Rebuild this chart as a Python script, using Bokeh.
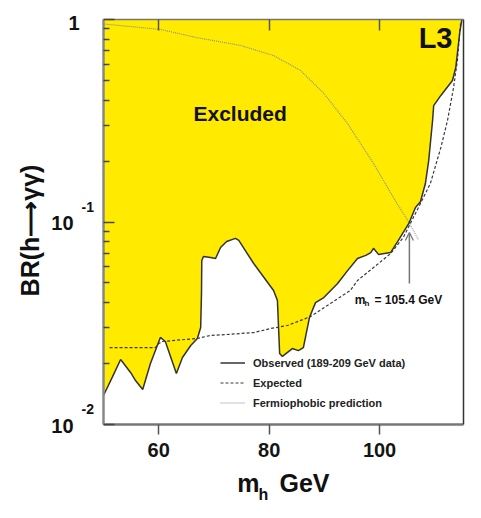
import math
from bokeh.plotting import figure
from bokeh.models import (Range1d, Label, Legend, LegendItem, FixedTicker, CustomJSTickFormatter,
                          LinearAxis, LogAxis, Arrow, OpenHead)
from bokeh.embed import file_html
from bokeh.resources import INLINE

# ---------------- data ----------------
obs_mh = [50.0, 51.6, 53.1, 54.9, 55.8, 57.1, 58.5, 60.3, 61.2, 63.2, 64.3, 65.8, 67.0,
          67.6, 67.75, 67.8, 68.1, 69.4, 70.3, 71.2, 72.3, 73.9, 74.5, 77.2, 80.8, 81.5,
          81.9, 82.4, 84.2, 85.3, 86.2, 87.3, 88.4, 89.9, 92.4, 94.2, 96.0, 97.5, 98.4,
          98.9, 99.8, 102.0, 103.4, 105.3, 106.5, 107.4, 108.3, 108.9, 109.6, 109.8,
          111.1, 113.2, 113.8, 114.5, 114.9]
obs_log = [-1.857, -1.766, -1.679, -1.743, -1.783, -1.827, -1.699, -1.570, -1.590, -1.748,
           -1.669, -1.610, -1.575, -1.521, -1.35, -1.190, -1.170, -1.175, -1.180, -1.126,
           -1.096, -1.081, -1.091, -1.205, -1.338, -1.388, -1.649, -1.664, -1.625, -1.635,
           -1.620, -1.472, -1.398, -1.373, -1.304, -1.240, -1.180, -1.165, -1.151, -1.130,
           -1.160, -1.151, -1.091, -1.007, -0.928, -0.900, -0.810, -0.696, -0.499, -0.425,
           -0.375, -0.301, -0.237, -0.069, 0.0]

exp_mh = [51.1, 59.4, 60.0, 60.7, 67.0, 69.4, 72.1, 77.2, 80.3, 83.3, 87.5, 91.1, 94.7,
          96.0, 98.9, 102.0, 104.3, 107.4, 109.2, 111.1, 112.3, 113.4, 114.1, 114.5, 114.7]
exp_log = [-1.620, -1.620, -1.600, -1.590, -1.575, -1.560, -1.556, -1.546, -1.526, -1.511,
           -1.467, -1.402, -1.338, -1.289, -1.225, -1.156, -1.076, -0.909, -0.810, -0.632,
           -0.499, -0.336, -0.202, -0.069, -0.010]

fp_mh = [50.0, 60.3, 67.0, 74.8, 80.8, 85.7, 89.9, 94.2, 98.9, 102.5, 105.1, 107.1]
fp_log = [-0.022, -0.049, -0.090, -0.128, -0.178, -0.252, -0.365, -0.514, -0.711,
          -0.879, -0.993, -1.090]

mh_limit = 105.4
arrow_br = [0.0497, 0.0887]

x_ticks = [60, 80, 100]
y_major = [0.01, 0.1, 1.0]
y_minor = [0.02, 0.03, 0.04, 0.05, 0.06, 0.07, 0.08, 0.09,
           0.2, 0.3, 0.4, 0.5, 0.6, 0.7, 0.8, 0.9]
legend_labels = ["Observed (189-209 GeV data)", "Expected", "Fermiophobic prediction"]

obs_br = [10 ** v for v in obs_log]
exp_br = [10 ** v for v in exp_log]
fp_br = [10 ** v for v in fp_log]

# ---------------- layout ----------------
W, H = 480, 516                      # canvas (page px)
PL, PT, PW, PH = 103, 19, 360, 405   # plot box inside the canvas
XD = (50.0, 115.2)                   # data range of the plot box
YD = (0.01, 1.0)
FONT = "Liberation Sans"

ux = (XD[1] - XD[0]) / PW
dec = PH / 2.0

def X(px):
    return XD[0] + (px - PL) * ux
def Y(py):
    return 10 ** (-(py - PT) / dec)

p = figure(output_backend="svg", toolbar_location=None, y_axis_type="log",
           x_axis_location=None, y_axis_location=None,
           x_range=Range1d(X(0), X(W)), y_range=Range1d(Y(H), Y(0)),
           width=W, height=H, min_border=0,
           min_border_left=0, min_border_right=0, min_border_top=0, min_border_bottom=0,
           background_fill_color="white", border_fill_color="white")
p.title.visible = False
p.grid.visible = False
p.outline_line_color = None

# excluded region
p.varea(x=obs_mh, y1=obs_br, y2=1.0, fill_color="#FFEA00")

fp_r = p.line(fp_mh, fp_br, line_color="#7d8b98", line_width=1.1, line_dash="1 1")
exp_r = p.line(exp_mh, exp_br, line_color="#3a3a3a", line_width=1.2, line_dash="3 2")
obs_r = p.line(obs_mh, obs_br, line_color="#333333", line_width=1.5)

blank = CustomJSTickFormatter(code="return ''")

# axes forming the box
xa = LinearAxis(fixed_location=YD[0], bounds=XD, ticker=FixedTicker(ticks=x_ticks),
                major_tick_out=10, major_tick_in=0, minor_tick_line_color=None,
                axis_line_color="#777777", axis_line_width=2.5,
                major_tick_line_color="#555555", major_tick_line_width=1.5,
                major_label_text_font=FONT, major_label_text_font_style="bold",
                major_label_text_font_size="20px", major_label_text_color="#151515",
                major_label_standoff=8)
p.add_layout(xa, "below")

top = LinearAxis(fixed_location=YD[1], bounds=XD, ticker=FixedTicker(ticks=x_ticks),
                 formatter=blank,
                 major_tick_in=11, major_tick_out=0, minor_tick_line_color=None,
                 major_label_standoff=0,
                 axis_line_color="#777777", axis_line_width=1.5,
                 major_tick_line_color="#555555", major_tick_line_width=1.5)
p.add_layout(top, "above")

ya = LogAxis(fixed_location=XD[0], bounds=YD,
             ticker=FixedTicker(ticks=y_major, minor_ticks=y_minor),
             formatter=blank,
             major_tick_in=11, major_tick_out=0, minor_tick_in=6, minor_tick_out=0,
             major_tick_line_color="#444444", minor_tick_line_color="#444444",
             major_tick_line_width=1.5, minor_tick_line_width=1.3,
             axis_line_color="#888888", axis_line_width=2.5,
             major_label_standoff=0)
p.add_layout(ya, "left")

ra = LogAxis(fixed_location=XD[1], bounds=YD, ticker=FixedTicker(ticks=y_major),
             formatter=blank,
             major_tick_line_color=None, minor_tick_line_color=None,
             axis_line_color="#333333", axis_line_width=1.5,
             major_label_standoff=0)
p.add_layout(ra, "right")

def lab(text, px, py, size, align="left", baseline="middle", angle=0.0,
        color="#111111", font=FONT):
    p.add_layout(Label(x=X(px), y=Y(py), text=text, text_font=font, text_font_style="bold",
                       text_font_size=size, text_align=align, text_baseline=baseline,
                       angle=angle, text_color=color))

# y tick labels
lab("1", 79, 22, "20px", align="right")
lab("10", 73, 222, "20px", align="right")
lab("-1", 81, 206, "14px")
lab("10", 73, 425, "20px", align="right")
lab("-2", 81, 408, "14px")

# axis titles
lab("BR(h\u27f6\u03b3\u03b3)", 29, 230, "25px", align="center", angle=math.pi / 2)
lab("m", 259, 482, "25px", align="right")
lab("h", 258, 494, "16px")
lab("GeV", 279, 482, "25px")

# texts inside
lab("Excluded", 193, 113, "21px")
lab("L3", 452, 37, "29px", align="right")
lab("m", 365, 299, "12px", align="right")
lab("h", 364, 303, "8px")
lab("= 105.4 GeV", 374, 299, "12px")

# arrow at the limit
p.add_layout(Arrow(end=OpenHead(size=8, line_color="#777777", line_width=1.3),
                   x_start=mh_limit, y_start=arrow_br[0], x_end=mh_limit, y_end=arrow_br[1],
                   line_color="#777777", line_width=1.5))

legend = Legend(items=[LegendItem(label=legend_labels[0], renderers=[obs_r]),
                       LegendItem(label=legend_labels[1], renderers=[exp_r]),
                       LegendItem(label=legend_labels[2], renderers=[fp_r])],
                location=(220, H - 412), orientation="vertical",
                border_line_alpha=0, background_fill_alpha=0, padding=0, margin=0,
                spacing=1, label_height=19, glyph_height=19, glyph_width=25,
                label_standoff=8, label_text_font=FONT, label_text_font_style="bold",
                label_text_font_size="11px", label_text_color="#222222")
p.add_layout(legend, "center")

open("out.html", "w").write(file_html(p, INLINE))
